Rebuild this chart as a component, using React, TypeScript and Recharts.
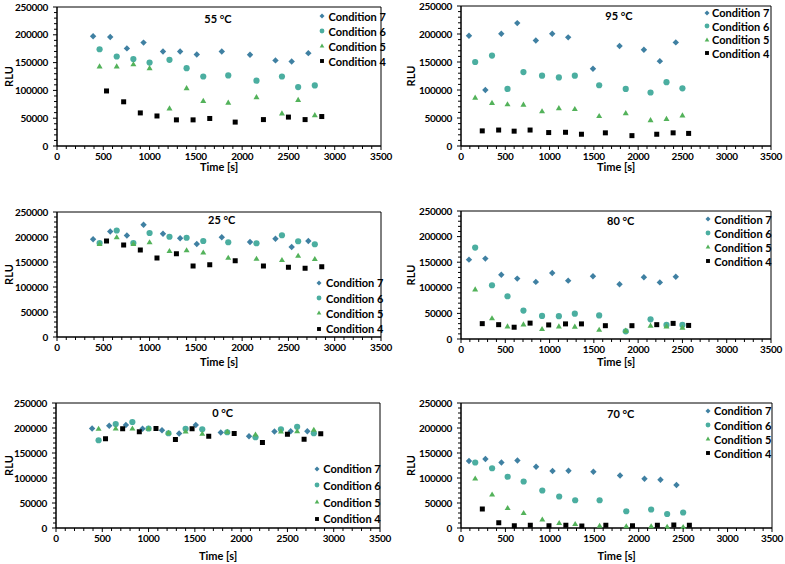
import React from 'react';
import { ScatterChart, Scatter, XAxis, YAxis, ReferenceArea, Legend } from 'recharts';

// sample times [s] - left column runs (55, 25, 0 °C)
const timeLeft7 = [390, 575, 755, 935, 1145, 1330, 1510, 1780, 2085, 2360, 2535, 2715];
const timeLeft65 = [460, 645, 825, 1000, 1215, 1400, 1580, 1850, 2155, 2430, 2605, 2785];
const timeLeft4 = [535, 720, 900, 1080, 1290, 1470, 1650, 1925, 2230, 2500, 2680, 2860];
// right column runs (95, 80, 70 °C)
const timeRight7 = [90, 275, 455, 635, 845, 1030, 1210, 1490, 1790, 2065, 2245, 2425];
const timeRight65 = [160, 350, 525, 705, 915, 1105, 1285, 1560, 1860, 2140, 2320, 2500];
const timeRight4 = [240, 425, 600, 780, 990, 1180, 1360, 1630, 1930, 2210, 2395, 2570];

// RLU readings
const rlu55c7 = [197500, 196000, 175500, 186000, 170000, 170000, 164500, 170000, 164000, 154000, 152000, 167000];
const rlu55c6 = [174000, 161000, 156500, 150000, 155000, 140000, 125000, 127000, 117500, 125000, 106000, 109000];
const rlu55c5 = [143000, 143000, 147000, 140000, 67500, 104000, 81000, 78000, 88000, 58500, 83000, 55500];
const rlu55c4 = [99000, 79500, 59500, 54000, 47000, 47000, 49500, 43000, 47500, 52000, 47500, 53000];

const rlu95c7 = [197000, 100000, 200500, 219500, 188500, 200500, 194000, 138000, 178500, 172000, 151500, 185000];
const rlu95c6 = [150000, 161500, 102000, 132000, 125500, 122500, 125500, 108500, 102000, 95500, 114000, 103000];
const rlu95c5 = [86500, 77000, 74500, 74000, 62000, 67500, 66000, 53500, 58500, 46000, 48500, 54500];
const rlu95c4 = [27000, 28500, 26500, 28500, 24000, 24500, 21000, 23500, 18500, 21000, 23500, 22500];

const rlu25c7 = [195500, 211000, 203000, 224500, 206500, 197500, 186000, 199500, 190000, 196500, 180000, 192000];
const rlu25c6 = [188000, 213000, 188000, 208000, 200500, 198500, 192000, 189500, 187500, 203500, 191500, 185500];
const rlu25c5 = [186000, 199500, 186000, 189500, 172000, 173500, 169000, 158500, 156500, 154000, 162500, 156000];
const rlu25c4 = [192000, 184000, 174000, 158000, 166500, 142000, 144500, 152500, 142000, 139500, 137500, 140500];

const rlu80c7 = [155000, 157000, 125500, 118000, 111500, 129000, 114000, 122500, 107000, 120500, 110500, 121500];
const rlu80c6 = [178500, 105000, 83500, 55500, 45000, 44500, 49500, 46000, 15000, 38500, 27500, 27500];
const rlu80c5 = [97000, 40500, 24500, 28500, 19500, 24500, 24000, 18000, 16500, 26000, 24500, 22000];
const rlu80c4 = [30000, 28000, 23000, 31000, 27500, 29500, 29500, 26000, 26000, 28000, 30500, 26500];

const rlu0c7 = [199000, 204500, 206000, 198500, 195500, 189000, 206000, 191000, 183500, 193000, 193500, 193500];
const rlu0c6 = [175500, 208000, 212000, 199000, 189500, 198500, 197500, 191500, 181500, 197500, 202500, 189500];
const rlu0c5 = [198500, 199000, 199000, 199000, 190500, 193000, 188500, 192500, 187000, 193000, 193500, 196500];
const rlu0c4 = [178500, 198500, 192500, 199000, 177000, 198500, 183500, 189000, 171000, 187500, 177500, 188500];

const rlu70c7 = [134000, 138000, 131000, 135000, 122500, 114000, 114500, 112500, 105000, 98500, 96500, 86000];
const rlu70c6 = [131000, 119500, 102500, 93000, 75000, 63000, 55500, 55500, 33500, 37000, 28000, 31000];
const rlu70c5 = [99000, 67000, 40000, 30000, 17000, 10000, 8000, 4500, 3500, 3500, 2500, 2000];
const rlu70c4 = [38000, 10500, 4500, 5500, 4500, 5500, 4000, 5500, 4500, 5500, 6000, 5500];

const seriesNames = ['Condition 7', 'Condition 6', 'Condition 5', 'Condition 4'];
const xTicks = Array.from({ length: 36 }, (_, i) => i * 100);
const yTicks = Array.from({ length: 26 }, (_, i) => i * 10000);

const FONT = 'Lato, "Liberation Sans", sans-serif';
const COLORS = ['#3F80A2', '#4BAEA0', '#53B25A', '#000000'];
const PAD_R = 16;
const PAD_B = 6;

const zip = (xs: number[], ys: number[]) => xs.map((x, i) => ({ x, y: ys[i] }));

// marker drawing, shared by the plot and the legend
const marker = (kind: number, cx: number, cy: number, s = 1) => {
  const c = COLORS[kind];
  if (kind === 0) {
    const r = 3.2 * s;
    return <path d={`M${cx},${cy - r}L${cx + r},${cy}L${cx},${cy + r}L${cx - r},${cy}Z`} fill={c} />;
  }
  if (kind === 1) return <circle cx={cx} cy={cy} r={3.1 * s} fill={c} />;
  if (kind === 2) {
    const w = 3 * s;
    const h = 5.2 * s;
    return <path d={`M${cx},${cy - h * 0.6}L${cx + w},${cy + h * 0.4}L${cx - w},${cy + h * 0.4}Z`} fill={c} />;
  }
  const a = 2.5 * s;
  return <rect x={cx - a} y={cy - a} width={a * 2} height={a * 2} fill={c} />;
};

const tickText = { fontSize: 10, fontWeight: 'bold', fontFamily: FONT, fill: '#000', letterSpacing: -0.3 } as const;

const XTick = (props: any) => {
  const { x, y, payload } = props;
  const major = payload.value % 500 === 0;
  return (
    <g>
      <line x1={x} x2={x} y1={y} y2={y + (major ? 4 : 3)} stroke="#000" />
      {major && (
        <text x={x} y={y + 10} dy="0.35em" textAnchor="middle" {...tickText}>
          {payload.value}
        </text>
      )}
    </g>
  );
};

const YTick = (props: any) => {
  const { x, y, payload } = props;
  const major = payload.value % 50000 === 0;
  return (
    <g>
      <line x1={x} x2={x - (major ? 4 : 3)} y1={y} y2={y} stroke="#000" />
      {major && (
        <text x={x - 9} y={y} dy="0.35em" textAnchor="end" {...tickText}>
          {payload.value}
        </text>
      )}
    </g>
  );
};

interface Panel {
  title: string;
  col: number;
  box: [number, number, number, number]; // plot area l, t, r, b in page px
  timeY: number;
  rluX: number;
  titleAt: [number, number];
  legend: [number, number, number, number]; // marker x, text x, first row y, row step
  times: number[][];
  values: number[][];
}

const LEFT = [timeLeft7, timeLeft65, timeLeft65, timeLeft4];
const RIGHT = [timeRight7, timeRight65, timeRight65, timeRight4];

const panels: Panel[] = [
  { title: '55 °C', col: 0, box: [57, 7, 381, 146], timeY: 167, rluX: 9, titleAt: [218, 18], legend: [322, 328.5, 16, 15], times: LEFT, values: [rlu55c7, rlu55c6, rlu55c5, rlu55c4] },
  { title: '95 °C', col: 395, box: [461, 6, 771, 146], timeY: 167, rluX: 16, titleAt: [619, 15], legend: [706.7, 712, 12.7, 13.55], times: RIGHT, values: [rlu95c7, rlu95c6, rlu95c5, rlu95c4] },
  { title: '25 °C', col: 0, box: [57, 212, 381, 337], timeY: 362, rluX: 9, titleAt: [221.7, 219.3], legend: [319.3, 326, 282.7, 15.33], times: LEFT, values: [rlu25c7, rlu25c6, rlu25c5, rlu25c4] },
  { title: '80 °C', col: 395, box: [461, 211, 771, 339], timeY: 362, rluX: 16, titleAt: [620.7, 220], legend: [708.3, 714.3, 219, 14], times: RIGHT, values: [rlu80c7, rlu80c6, rlu80c5, rlu80c4] },
  { title: '0 °C', col: 0, box: [56, 403, 380, 528], timeY: 556, rluX: 9, titleAt: [222.7, 412.3], legend: [317.3, 323.3, 468.7, 16.67], times: LEFT, values: [rlu0c7, rlu0c6, rlu0c5, rlu0c4] },
  { title: '70 °C', col: 395, box: [461, 403, 772, 528], timeY: 556, rluX: 16, titleAt: [620.7, 412.7], legend: [707.7, 714, 411, 14.1], times: RIGHT, values: [rlu70c7, rlu70c6, rlu70c5, rlu70c4] },
];

const PanelChart = ({ p }: { p: Panel }) => {
  const [l, t, r, b] = p.box;
  const top = t - 5;
  const xAxisH = p.timeY + 4 - b;
  const width = r + PAD_R - p.col;
  const height = b - top + xAxisH + PAD_B;
  const [mx, tx, ly, step] = p.legend;

  const legendContent = () => (
    <div style={{ fontFamily: FONT, fontWeight: 'bold', fontSize: 11, color: '#000' }}>
      {seriesNames.map((name, i) => (
        <div key={name} style={{ height: step, display: 'flex', alignItems: 'center', whiteSpace: 'nowrap' }}>
          <svg width={8} height={8} style={{ display: 'block' }}>
            {marker(i, 4, 4, 0.78)}
          </svg>
          <span style={{ marginLeft: tx - mx - 4 }}>{name}</span>
        </div>
      ))}
    </div>
  );

  return (
    <div style={{ position: 'absolute', left: p.col, top }}>
      <ScatterChart width={width} height={height} margin={{ top: 5, right: PAD_R, left: 0, bottom: PAD_B }}>
        <XAxis
          type="number"
          dataKey="x"
          domain={[0, 3500]}
          ticks={xTicks}
          interval={0}
          tick={XTick}
          tickLine={false}
          tickSize={0}
          tickMargin={0}
          height={xAxisH}
          axisLine={{ stroke: '#000' }}
          label={() => (
            <text x={(l + r) / 2 - p.col} y={p.timeY + 4 - top} textAnchor="middle" fontSize={11} fontWeight="bold" fontFamily={FONT} fill="#000">
              Time [s]
            </text>
          )}
        />
        <YAxis
          type="number"
          dataKey="y"
          domain={[0, 250000]}
          ticks={yTicks}
          interval={0}
          tick={YTick}
          tickLine={false}
          tickSize={0}
          tickMargin={0}
          width={l - p.col}
          axisLine={{ stroke: '#000' }}
          label={() => {
            const cy = (t + b) / 2 - top;
            return (
              <text x={p.rluX} y={cy} dy="0.35em" textAnchor="middle" transform={`rotate(-90, ${p.rluX}, ${cy})`} fontSize={11} fontWeight="bold" fontFamily={FONT} fill="#000">
                RLU
              </text>
            );
          }}
        />
        <ReferenceArea x1={0} x2={3500} y1={0} y2={250000} fill="none" stroke="#000" strokeWidth={1} />
        {seriesNames.map((name, i) => (
          <Scatter
            key={name}
            name={name}
            data={zip(p.times[i], p.values[i])}
            fill={COLORS[i]}
            isAnimationActive={false}
            shape={(sp: any) => marker(i, sp.cx, sp.cy)}
          />
        ))}
        <Legend
          layout="vertical"
          align="center"
          verticalAlign="middle"
          content={legendContent}
          wrapperStyle={{ left: mx - 4 - p.col, top: ly - step / 2 - top, width: 'auto' }}
        />
      </ScatterChart>
      <div
        style={{
          position: 'absolute',
          left: p.titleAt[0] - p.col,
          top: p.titleAt[1] - top,
          transform: 'translate(-50%, -50%)',
          fontFamily: FONT,
          fontWeight: 'bold',
          fontSize: 11,
          whiteSpace: 'nowrap',
        }}
      >
        {p.title}
      </div>
    </div>
  );
};

export default function App() {
  return (
    <div style={{ position: 'absolute', left: 0, top: 0, width: 785, height: 564, background: '#fff' }}>
      {panels.map((p) => (
        <PanelChart key={p.title} p={p} />
      ))}
    </div>
  );
}
